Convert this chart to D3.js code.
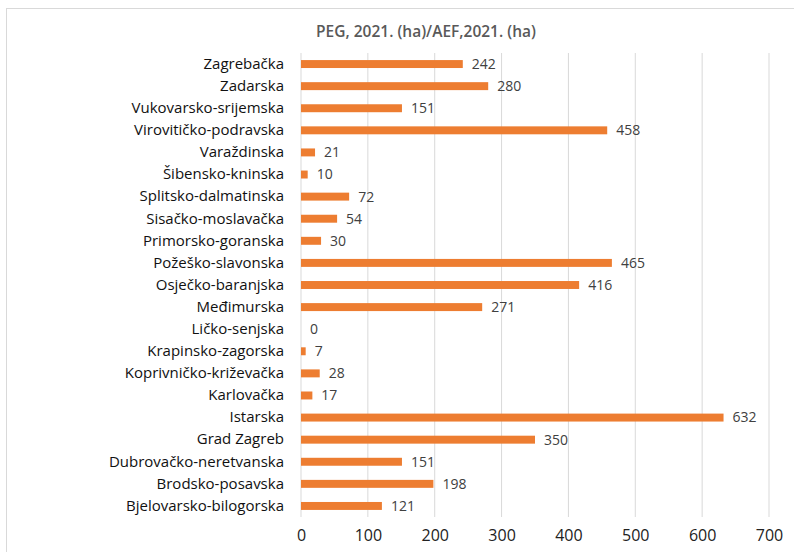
<!DOCTYPE html>
<html>
<head>
<meta charset="utf-8">
<script src="https://cdn.jsdelivr.net/npm/d3@7"></script>
<style>
  body { margin: 0; background: #fff; }
  svg { display: block; }
</style>
</head>
<body>
<svg id="chart" width="794" height="552"></svg>
<script>
const counties = [
  "Zagrebačka", "Zadarska", "Vukovarsko-srijemska", "Virovitičko-podravska",
  "Varaždinska", "Šibensko-kninska", "Splitsko-dalmatinska", "Sisačko-moslavačka",
  "Primorsko-goranska", "Požeško-slavonska", "Osječko-baranjska", "Međimurska",
  "Ličko-senjska", "Krapinsko-zagorska", "Koprivničko-križevačka", "Karlovačka",
  "Istarska", "Grad Zagreb", "Dubrovačko-neretvanska", "Brodsko-posavska",
  "Bjelovarsko-bilogorska"
];
const values = [242, 280, 151, 458, 21, 10, 72, 54, 30, 465, 416, 271, 0, 7, 28, 17, 632, 350, 151, 198, 121];
const xTicks = [0, 100, 200, 300, 400, 500, 600, 700];
const title = "PEG, 2021. (ha)/AEF,2021. (ha)";

const svg = d3.select("#chart");
const font = "'Open Sans', 'Noto Sans', sans-serif";

// chart frame (runs off the right and bottom edge)
svg.append("rect")
  .attr("x", 6.5).attr("y", 8.5)
  .attr("width", 800).attr("height", 560)
  .attr("fill", "#fff")
  .attr("stroke", "#d9d9d9");

const m = { left: 301, right: 769, top: 53, bottom: 517 };

const x = d3.scaleLinear().domain([0, 700]).range([m.left, m.right]);
const y = d3.scaleBand().domain(counties).range([m.top, m.bottom]).paddingInner(0.64).paddingOuter(0.32);

// gridlines
svg.append("g")
  .selectAll("line")
  .data(xTicks)
  .join("line")
  .attr("x1", d => x(d)).attr("x2", d => x(d))
  .attr("y1", m.top).attr("y2", m.bottom)
  .attr("stroke", "#d9d9d9")
  .attr("stroke-width", 1);

// x axis labels
const xAxis = svg.append("g")
  .attr("transform", `translate(0,${m.bottom})`)
  .call(d3.axisBottom(x).tickValues(xTicks).tickSize(0).tickPadding(13));
xAxis.select(".domain").remove();
xAxis.selectAll("text")
  .attr("font-family", font).attr("font-size", 16).attr("fill", "#222");

// category labels
const yAxis = svg.append("g")
  .attr("transform", `translate(${m.left},0)`)
  .call(d3.axisLeft(y).tickSize(0).tickPadding(17));
yAxis.select(".domain").remove();
yAxis.selectAll("text")
  .attr("font-family", font).attr("font-size", 15).attr("fill", "#111");

// bars
svg.append("g")
  .selectAll("rect")
  .data(counties)
  .join("rect")
  .attr("x", x(0))
  .attr("y", d => y(d))
  .attr("width", (d, i) => x(values[i]) - x(0))
  .attr("height", y.bandwidth())
  .attr("fill", "#ED7D31");

// value labels
svg.append("g")
  .selectAll("text")
  .data(counties)
  .join("text")
  .attr("x", (d, i) => x(values[i]) + 9)
  .attr("y", d => y(d) + y.bandwidth() / 2)
  .attr("dy", "0.35em")
  .attr("font-family", font)
  .attr("font-size", 14)
  .attr("fill", "#404040")
  .text((d, i) => values[i]);

// title
svg.append("text")
  .attr("x", 426).attr("y", 32)
  .attr("dy", "0.35em")
  .attr("text-anchor", "middle")
  .attr("font-family", font)
  .attr("font-size", 15.5)
  .attr("font-weight", 600)
  .attr("fill", "#595959")
  .text(title);
</script>
</body>
</html>
